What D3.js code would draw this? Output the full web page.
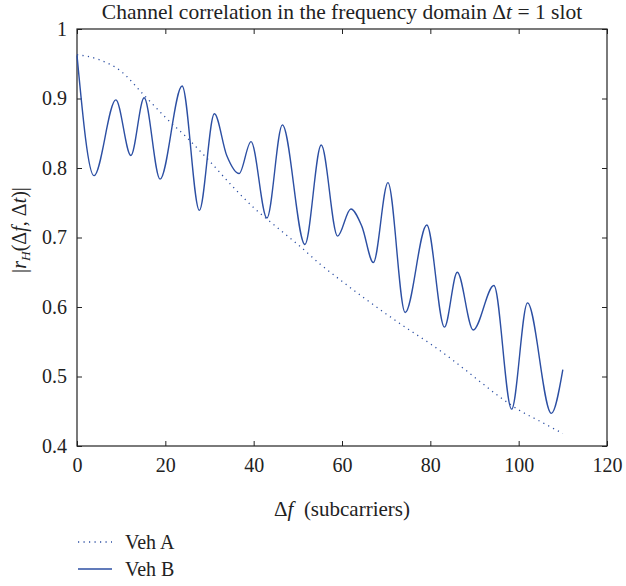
<!DOCTYPE html>
<html>
<head>
<meta charset="utf-8">
<script src="https://cdn.jsdelivr.net/npm/d3@7"></script>
<style>
  body { margin: 0; background: #fff; }
  text { font-family: "Liberation Serif", "DejaVu Serif", serif; fill: #222; }
</style>
</head>
<body>
<script>
// Veh A: smooth decay (dotted)
var vehAf = [0, 5, 10, 15, 20, 25, 30, 35, 40, 45, 50, 55, 60, 65, 70, 75, 80, 85, 90, 95, 100, 105, 110];
var vehAr = [0.963, 0.956, 0.939, 0.906, 0.873, 0.843, 0.810, 0.775, 0.743, 0.716, 0.690, 0.662, 0.637, 0.613, 0.590, 0.568, 0.547, 0.524, 0.499, 0.474, 0.452, 0.435, 0.418];

// Veh B: oscillating (solid), read at peaks/troughs
var vehBf = [0, 3.85, 8.8, 12.2, 15.2, 18.8, 23.8, 27.7, 31.1, 33.9, 36.7, 39.4, 43.0, 46.5, 51.6, 55.3, 59.0, 62.0, 64.5, 67.1, 70.4, 74.3, 79.2, 83.2, 86.1, 89.7, 94.4, 98.4, 102.0, 107.4, 110];
var vehBr = [0.962, 0.789, 0.898, 0.818, 0.901, 0.784, 0.918, 0.739, 0.878, 0.818, 0.792, 0.838, 0.728, 0.862, 0.690, 0.833, 0.702, 0.741, 0.716, 0.664, 0.779, 0.592, 0.718, 0.571, 0.650, 0.567, 0.631, 0.453, 0.606, 0.447, 0.510];

var xTicks = [0, 20, 40, 60, 80, 100, 120];
var yTicks = [0.4, 0.5, 0.6, 0.7, 0.8, 0.9, 1];

var W = 626, H = 586;
var pLeft = 77, pRight = 607, pTop = 29, pBottom = 446;
var blue = "#2c4fa3";

var svg = d3.select("body").append("svg")
    .attr("width", W)
    .attr("height", H);

var x = d3.scaleLinear().domain([0, 120]).range([pLeft, pRight]);
var y = d3.scaleLinear().domain([0.4, 1]).range([pBottom, pTop]);

// axes, ticks pointing inward on all four sides
function styleAxis(g) {
    g.select(".domain").remove();
    g.selectAll(".tick line").attr("stroke", "#222");
    g.selectAll(".tick text").style("font-size", "20px").attr("fill", "#222");
}

svg.append("g")
    .attr("transform", "translate(0," + pBottom + ")")
    .call(d3.axisBottom(x).tickValues(xTicks).tickSizeInner(-5).tickSizeOuter(0).tickPadding(12).tickFormat(d3.format("d")))
    .call(styleAxis);

svg.append("g")
    .attr("transform", "translate(0," + pTop + ")")
    .call(d3.axisTop(x).tickValues(xTicks).tickSizeInner(-5).tickSizeOuter(0).tickFormat(""))
    .call(styleAxis);

svg.append("g")
    .attr("transform", "translate(" + pLeft + ",0)")
    .call(d3.axisLeft(y).tickValues(yTicks).tickSizeInner(-5).tickSizeOuter(0).tickPadding(10).tickFormat(d => d === 1 ? "1" : d3.format(".1f")(d)))
    .call(styleAxis);

svg.append("g")
    .attr("transform", "translate(" + pRight + ",0)")
    .call(d3.axisRight(y).tickValues(yTicks).tickSizeInner(-5).tickSizeOuter(0).tickFormat(""))
    .call(styleAxis);

// plot frame
svg.append("rect")
    .attr("x", pLeft).attr("y", pTop)
    .attr("width", pRight - pLeft).attr("height", pBottom - pTop)
    .attr("fill", "none")
    .attr("stroke", "#222")
    .attr("stroke-width", 1.2);

// curves
var lineA = d3.line()
    .x((d, i) => x(vehAf[i]))
    .y(d => y(d))
    .curve(d3.curveMonotoneX);

var lineB = d3.line()
    .x((d, i) => x(vehBf[i]))
    .y(d => y(d))
    .curve(d3.curveMonotoneX);

svg.append("path")
    .datum(vehAr)
    .attr("d", lineA)
    .attr("fill", "none")
    .attr("stroke", blue)
    .attr("stroke-width", 1.3)
    .attr("stroke-dasharray", "1.2,4.3");

svg.append("path")
    .datum(vehBr)
    .attr("d", lineB)
    .attr("fill", "none")
    .attr("stroke", blue)
    .attr("stroke-width", 1.4);

// title
var title = svg.append("text")
    .attr("x", (pLeft + pRight) / 2)
    .attr("y", 19)
    .attr("text-anchor", "middle")
    .style("font-size", "21.5px");
title.append("tspan").text("Channel correlation in the frequency domain \u0394");
title.append("tspan").style("font-style", "italic").text("t");
title.append("tspan").text(" = 1 slot");

// x label
var xl = svg.append("text")
    .attr("x", (pLeft + pRight) / 2)
    .attr("y", 516)
    .attr("text-anchor", "middle")
    .style("font-size", "21px");
xl.append("tspan").text("\u0394");
xl.append("tspan").style("font-style", "italic").text("f");
xl.append("tspan").text("\u00a0\u00a0(subcarriers)");

// y label
var yl = svg.append("text")
    .attr("transform", "translate(26,230) rotate(-90)")
    .attr("text-anchor", "middle")
    .style("font-size", "20px");
yl.append("tspan").text("|");
yl.append("tspan").style("font-style", "italic").text("r");
yl.append("tspan").style("font-style", "italic").style("font-size", "13.5px").attr("dy", 4).text("H");
yl.append("tspan").attr("dy", -4).text("(\u0394");
yl.append("tspan").style("font-style", "italic").text("f");
yl.append("tspan").text(", \u0394");
yl.append("tspan").style("font-style", "italic").text("t");
yl.append("tspan").text(")|");

// legend
var legendNames = ["Veh A", "Veh B"];
var legend = svg.append("g");
legendNames.forEach(function(name, i) {
    var ly = 542 + i * 27;
    legend.append("line")
        .attr("x1", 78).attr("x2", 112)
        .attr("y1", ly).attr("y2", ly)
        .attr("stroke", blue)
        .attr("stroke-width", i === 0 ? 1.3 : 1.4)
        .attr("stroke-dasharray", i === 0 ? "1.2,4.3" : null);
    legend.append("text")
        .attr("x", 125).attr("y", ly + 7)
        .style("font-size", "20px")
        .text(name);
});
</script>
</body>
</html>
